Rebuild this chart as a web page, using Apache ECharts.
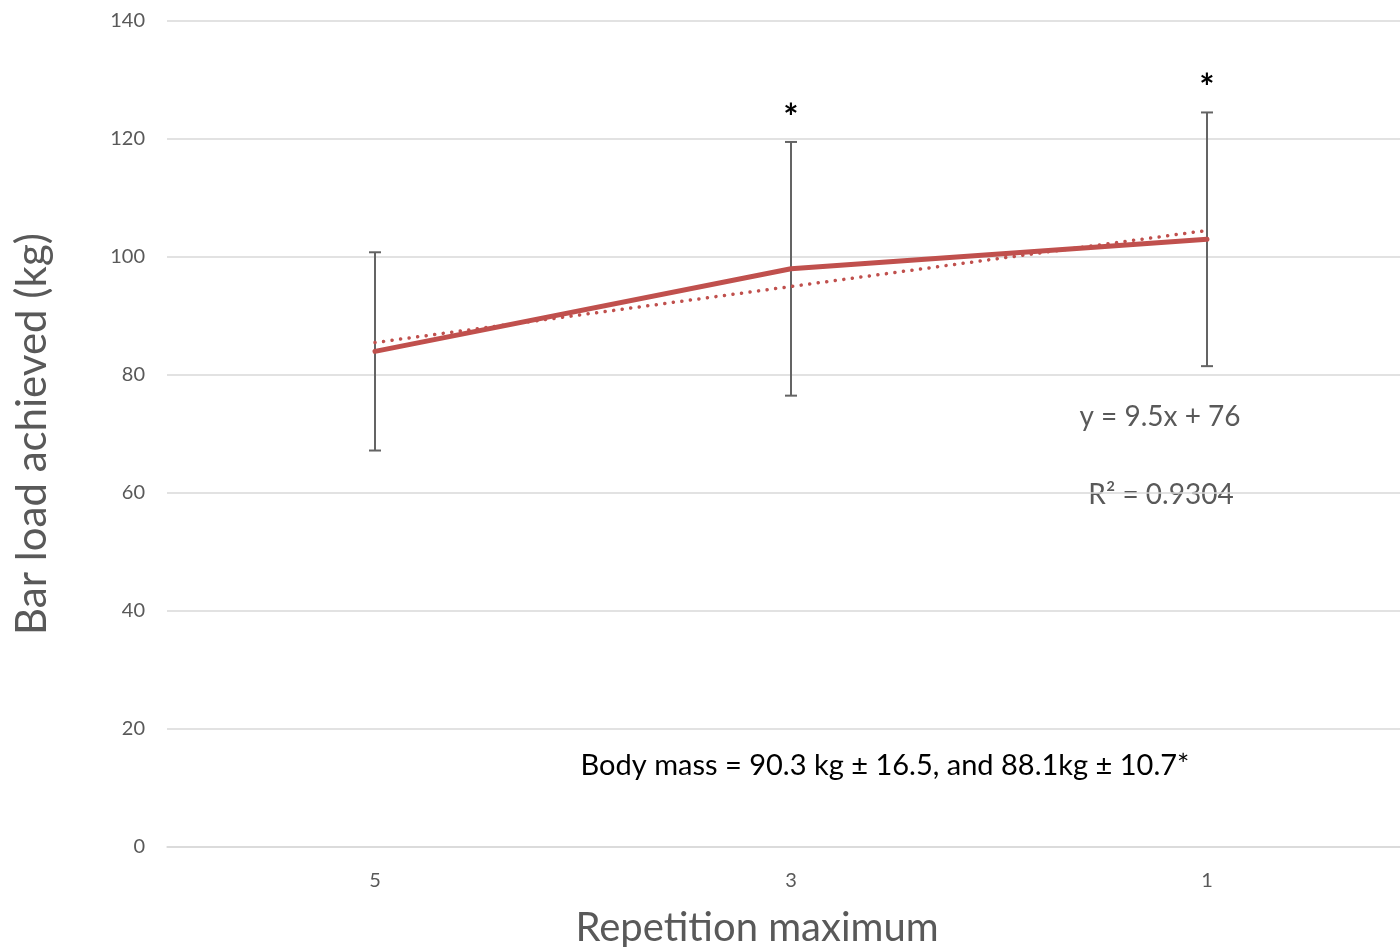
<!DOCTYPE html>
<html>
<head>
<meta charset="utf-8">
<script src="https://cdn.jsdelivr.net/npm/echarts@6/dist/echarts.min.js"></script>
<style>html,body{margin:0;padding:0;background:#fff;}#chart{width:1400px;height:947px;}</style>
</head>
<body>
<div id="chart"></div>
<script>
const categories = ['5', '3', '1'];
const meanLoad = [84, 98, 103];
const sdLoad = [16.8, 21.5, 21.5];
const trendValues = [85.5, 95, 104.5];
const significant = [false, true, true];
const yTicks = [0, 20, 40, 60, 80, 100, 120, 140];
const equationText = 'y = 9.5x + 76';
const r2Text = 'R² = 0.9304';
const noteText = 'Body mass = 90.3 kg ± 16.5, and 88.1kg ± 10.7*';

const FONT = 'Lato, "Open Sans", sans-serif';
const errData = categories.map((c, i) => [i, meanLoad[i] - sdLoad[i], meanLoad[i] + sdLoad[i], significant[i] ? 1 : 0]);

const chart = echarts.init(document.getElementById('chart'), null, {renderer: 'canvas'});
chart.setOption({
  animation: false,
  backgroundColor: '#fff',
  textStyle: {fontFamily: FONT},
  grid: {left: 167, top: 21, bottom: 100, width: 1248, containLabel: false, outerBoundsMode: 'none'},
  xAxis: {
    type: 'category',
    data: categories,
    boundaryGap: true,
    axisLine: {show: true, lineStyle: {color: '#d9d9d9', width: 1.5}},
    axisTick: {show: false},
    axisLabel: {color: '#595959', fontSize: 20, margin: 24, fontFamily: FONT},
    name: 'Repetition maximum',
    nameLocation: 'middle',
    nameGap: 61,
    nameTextStyle: {color: '#595959', fontSize: 40, fontFamily: FONT, padding: [0, 68, 0, 0]}
  },
  yAxis: {
    type: 'value',
    min: yTicks[0],
    max: yTicks[yTicks.length - 1],
    interval: 20,
    axisLine: {show: false},
    axisTick: {show: false},
    splitLine: {lineStyle: {color: '#d9d9d9', width: 1.5}},
    axisLabel: {color: '#595959', fontSize: 20, margin: 22, fontFamily: FONT},
    name: 'Bar load achieved (kg)',
    nameLocation: 'middle',
    nameGap: 114,
    nameTextStyle: {color: '#595959', fontSize: 42, fontFamily: FONT}
  },
  graphic: [
    {type: 'text', x: 1160, y: 417, style: {text: equationText, textAlign: 'center', textVerticalAlign: 'middle', fontSize: 28, fill: '#595959', fontFamily: FONT}},
    {type: 'text', x: 1161, y: 495, style: {text: r2Text, textAlign: 'center', textVerticalAlign: 'middle', fontSize: 28, fill: '#595959', fontFamily: FONT}},
    {type: 'text', x: 885, y: 766, style: {text: noteText, textAlign: 'center', textVerticalAlign: 'middle', fontSize: 29, fill: '#000', fontFamily: FONT}}
  ],
  series: [
    {
      type: 'custom',
      z: 1,
      data: errData,
      renderItem: function (params, api) {
        const x = api.value(0);
        const lo = api.coord([x, api.value(1)]);
        const hi = api.coord([x, api.value(2)]);
        const cap = 6;
        const st = {stroke: '#646464', lineWidth: 2};
        const children = [
          {type: 'line', shape: {x1: hi[0], y1: hi[1], x2: lo[0], y2: lo[1]}, style: st},
          {type: 'line', shape: {x1: hi[0] - cap, y1: hi[1], x2: hi[0] + cap, y2: hi[1]}, style: st},
          {type: 'line', shape: {x1: lo[0] - cap, y1: lo[1], x2: lo[0] + cap, y2: lo[1]}, style: st}
        ];
        if (api.value(3)) {
          children.push({type: 'text', style: {text: '*', x: hi[0], y: hi[1] - 24, textAlign: 'center', textVerticalAlign: 'middle', fontSize: 36, fontWeight: 'bold', fill: '#000', fontFamily: FONT}});
        }
        return {type: 'group', children: children};
      }
    },
    {
      type: 'line',
      z: 3,
      data: meanLoad,
      symbol: 'none',
      lineStyle: {color: '#C0504D', width: 5, cap: 'round', join: 'round'}
    },
    {
      type: 'line',
      z: 2,
      data: trendValues,
      symbol: 'none',
      lineStyle: {color: '#C0504D', width: 3.5, type: [0.1, 8.5], cap: 'round'}
    }
  ]
});
</script>
</body>
</html>
